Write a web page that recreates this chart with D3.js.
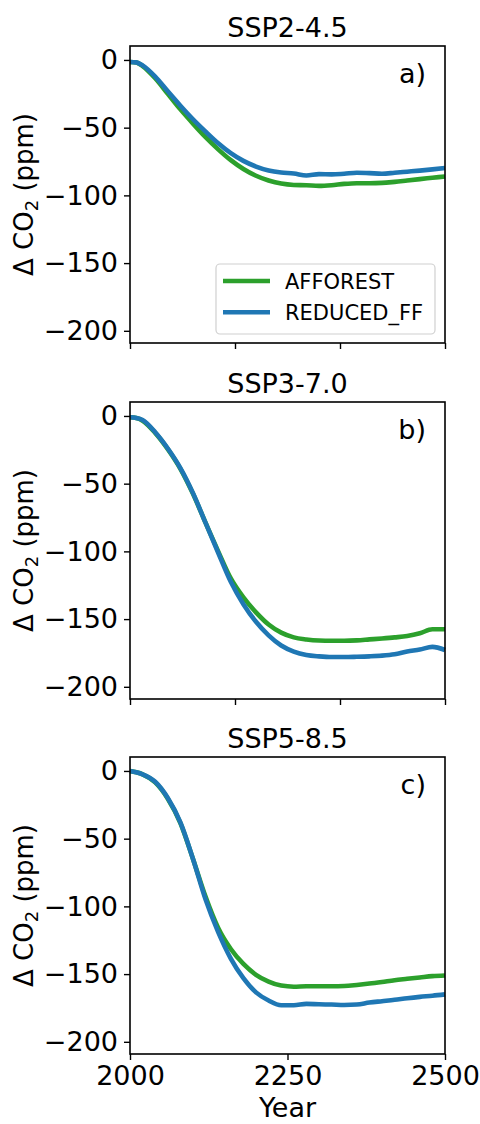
<!DOCTYPE html>
<html><head><meta charset="utf-8">
<script src="https://cdn.jsdelivr.net/npm/d3@7"></script>
<style>body{margin:0;background:#fff} svg{display:block}</style>
</head><body><svg id="c" width="480" height="1124"></svg>
<script>
const years = [2000,2010,2020,2040,2060,2080,2100,2120,2140,2160,2180,2200,2220,2240,2260,2280,2300,2320,2340,2360,2380,2400,2420,2440,2460,2480,2500];
const titles = ["SSP2-4.5","SSP3-7.0","SSP5-8.5"];
const panelLabels = ["a)","b)","c)"];
const seriesNames = ["AFFOREST","REDUCED_FF"];
const seriesColors = ["#2ca02c","#1f77b4"];

const afforest245 = [-1.5,-1.8,-4.5,-13.5,-25,-36.5,-47,-57,-66,-74,-80.5,-85.5,-89,-91.3,-92.3,-92.5,-93,-92.5,-91.5,-91,-91,-90.8,-90,-89,-88,-87,-86];
const reducedFF245 = [-1.5,-1.8,-4,-12.3,-23.2,-33.8,-43.8,-52.9,-61.5,-68.8,-74.5,-78.7,-81.6,-83.1,-83.8,-85.3,-84.3,-84.5,-84,-83.3,-83.6,-84,-83.3,-82.5,-81.7,-80.8,-79.8];
const afforest370 = [-1,-1.5,-3.5,-12.5,-24.5,-39,-57.5,-79,-100,-120,-134,-145,-154,-160,-163.5,-165,-165.8,-166,-166,-165.7,-165,-164.3,-163.5,-162.5,-160.5,-157.5,-157.5];
const reducedFF370 = [-1,-1.5,-3,-12,-24,-38.5,-57,-79,-101,-122.5,-139,-152,-162,-169.5,-174,-176.5,-177.5,-178,-178,-177.8,-177.5,-177,-176,-174,-172.5,-170.5,-172.8];
const afforest585 = [0,-1,-2.5,-8.5,-20.5,-38.5,-65,-93,-116,-131.5,-142.5,-150.5,-155.5,-158.5,-159.3,-159,-159,-159,-158.8,-158,-157,-155.8,-154.5,-153.5,-152.5,-151.5,-151];
const reducedFF585 = [0,-1,-2.5,-8,-20,-38,-65,-95,-119,-138.5,-153,-163.5,-169.5,-173,-173,-172,-172.3,-172.5,-172.8,-172.5,-171,-170,-169,-167.8,-166.8,-166,-165];

const yTicks = [0,-50,-100,-150,-200];
const xTicksTop = [2000, 2000+500/3, 2000+1000/3, 2500];
const xTicksBottom = [2000,2250,2500];
const xLabel = "Year";

const panels = [
  {title: titles[0], label: panelLabels[0], series: [afforest245, reducedFF245], legend: true, xt: xTicksTop, xlab: false},
  {title: titles[1], label: panelLabels[1], series: [afforest370, reducedFF370], legend: false, xt: xTicksTop, xlab: false},
  {title: titles[2], label: panelLabels[2], series: [afforest585, reducedFF585], legend: false, xt: xTicksBottom, xlab: true}
];

const svg = d3.select("#c");
const FONT = "DejaVu Sans";
const FS = 27;
const left = 130, right = 445, h = 297;
const tops = [46, 402, 757];
const x = d3.scaleLinear().domain([2000,2500]).range([left,right]);

panels.forEach((p,i) => {
  const top = tops[i];
  const y = d3.scaleLinear().domain([-209,10.3]).range([top+h, top]);
  const g = svg.append("g");

  const line = d3.line().x((d,k)=>x(years[k])).y(d=>y(d)).curve(d3.curveMonotoneX);
  p.series.forEach((s,j) => {
    g.append("path").datum(s).attr("d", line)
      .attr("fill","none").attr("stroke", seriesColors[j])
      .attr("stroke-width", 4.6).attr("stroke-linejoin","round").attr("stroke-linecap","butt");
  });

  const ya = d3.axisLeft(y).tickValues(yTicks).tickSize(6).tickPadding(6);
  const yg = g.append("g").attr("transform",`translate(${left},0)`).call(ya);
  yg.select(".domain").remove();
  yg.selectAll("line").attr("stroke","#000").attr("stroke-width",1.4);
  yg.selectAll("text").attr("font-family",FONT).attr("font-size",FS).attr("fill","#000");

  const xa = d3.axisBottom(x).tickValues(p.xt).tickSize(6).tickPadding(6)
    .tickFormat(p.xlab ? d3.format("d") : () => "");
  const xg = g.append("g").attr("transform",`translate(0,${top+h})`).call(xa);
  xg.select(".domain").remove();
  xg.selectAll("line").attr("stroke","#000").attr("stroke-width",1.4);
  xg.selectAll("text").attr("font-family",FONT).attr("font-size",FS).attr("fill","#000");

  g.append("rect").attr("x",left).attr("y",top).attr("width",right-left).attr("height",h)
    .attr("fill","none").attr("stroke","#000").attr("stroke-width",1.6);

  g.append("text").attr("x",(left+right)/2).attr("y",top-9.5).attr("text-anchor","middle")
    .attr("font-family",FONT).attr("font-size",FS).text(p.title);

  g.append("text").attr("x",426).attr("y",top+37).attr("text-anchor","end")
    .attr("font-family",FONT).attr("font-size",FS).text(p.label);

  const yl = g.append("text").attr("transform",`translate(33,${top+h/2}) rotate(-90)`)
    .attr("text-anchor","middle").attr("font-family",FONT).attr("font-size",26);
  yl.append("tspan").text("Δ CO");
  yl.append("tspan").attr("font-size",18).attr("dy",5).text("2");
  yl.append("tspan").attr("dy",-5).text(" (ppm)");

  if (p.xlab) {
    g.append("text").attr("x",(left+right)/2).attr("y",1117).attr("text-anchor","middle")
      .attr("font-family",FONT).attr("font-size",FS).text(xLabel);
  }

  if (p.legend) {
    const lg = g.append("g");
    lg.append("rect").attr("x",216).attr("y",264).attr("width",219).attr("height",70)
      .attr("rx",4).attr("fill","#fff").attr("fill-opacity",0.8).attr("stroke","#d0d0d0").attr("stroke-width",1.2);
    seriesNames.forEach((n,j) => {
      const ly = 281 + j*31.3;
      lg.append("line").attr("x1",223).attr("x2",270).attr("y1",ly).attr("y2",ly)
        .attr("stroke",seriesColors[j]).attr("stroke-width",4.6);
      lg.append("text").attr("x",285).attr("y",ly+7.6).attr("font-family",FONT)
        .attr("font-size",21).text(n);
    });
  }
});
</script></body></html>
